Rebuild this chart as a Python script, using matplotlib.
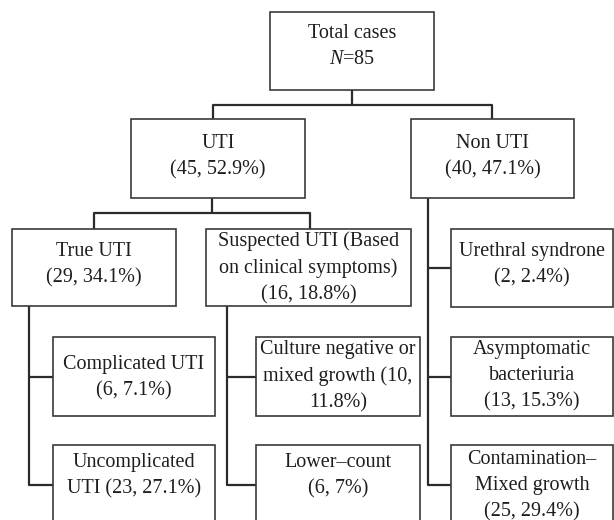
import matplotlib.pyplot as plt
from matplotlib.patches import Rectangle

plt.rcParams['font.family'] = ['Liberation Serif', 'DejaVu Serif']
plt.rcParams['mathtext.fontset'] = 'custom'
plt.rcParams['mathtext.rm'] = 'Liberation Serif'
plt.rcParams['mathtext.it'] = 'Liberation Serif:italic'

# flowchart content
nodes = ['total', 'uti', 'non_uti', 'true_uti', 'suspected', 'urethral',
         'complicated', 'culture_neg', 'asymptomatic',
         'uncomplicated', 'lower_count', 'contamination']
labels = [
    'Total cases\n$\\it{N}$=85',
    'UTI\n(45, 52.9%)',
    'Non UTI\n(40, 47.1%)',
    'True UTI\n(29, 34.1%)',
    'Suspected UTI (Based\non clinical symptoms)\n(16, 18.8%)',
    'Urethral syndrone\n(2, 2.4%)',
    'Complicated UTI\n(6, 7.1%)',
    'Culture negative or\nmixed growth (10,\n11.8%)',
    'Asymptomatic\nbacteriuria\n(13, 15.3%)',
    'Uncomplicated\nUTI (23, 27.1%)',
    'Lower\u2013count\n(6, 7%)',
    'Contamination\u2013\nMixed growth\n(25, 29.4%)',
]

# layout in pixels: x0, y0, x1, y1, text centre y
boxes = {
    'total':         (270, 12, 434, 90, 46),
    'uti':           (131, 119, 305, 198, 157),
    'non_uti':       (411, 119, 574, 198, 157),
    'true_uti':      (12, 229, 176, 306, 265),
    'suspected':     (206, 229, 411, 306, 268),
    'urethral':      (451, 229, 613, 307, 265),
    'complicated':   (53, 337, 215, 416, 378),
    'culture_neg':   (256, 337, 420, 416, 376),
    'asymptomatic':  (451, 337, 613, 416, 376),
    'uncomplicated': (53, 445, 215, 540, 476),
    'lower_count':   (256, 445, 420, 540, 476),
    'contamination': (451, 445, 613, 540, 486),
}

# connector polylines (pixels)
links = [
    [(352, 90), (352, 105)],
    [(213, 119), (213, 105), (492, 105), (492, 119)],
    [(212, 198), (212, 213)],
    [(94, 229), (94, 213), (310, 213), (310, 229)],
    [(29, 306), (29, 485), (53, 485)],
    [(29, 377), (53, 377)],
    [(227, 306), (227, 485), (256, 485)],
    [(227, 377), (256, 377)],
    [(428, 198), (428, 485), (451, 485)],
    [(428, 268), (451, 268)],
    [(428, 377), (451, 377)],
]

fig = plt.figure(figsize=(6.14, 5.20), dpi=100)
ax = fig.add_axes([0, 0, 1, 1])
ax.set_xlim(0, 614)
ax.set_ylim(520, 0)
ax.axis('off')

for pts in links:
    xs = [p[0] for p in pts]
    ys = [p[1] for p in pts]
    ax.plot(xs, ys, color='#2b2b2b', linewidth=1.6, solid_capstyle='butt')

for name, text in zip(nodes, labels):
    x0, y0, x1, y1, ty = boxes[name]
    ax.add_patch(Rectangle((x0, y0), x1 - x0, y1 - y0, facecolor='white',
                           edgecolor='#3a3a3a', linewidth=1.2, zorder=2))
    ax.text((x0 + x1) / 2, ty, text, ha='center', va='center', fontsize=14.5,
            color='#1e1e1e', linespacing=1.5, zorder=3)

fig.savefig('out.png', dpi=100)
